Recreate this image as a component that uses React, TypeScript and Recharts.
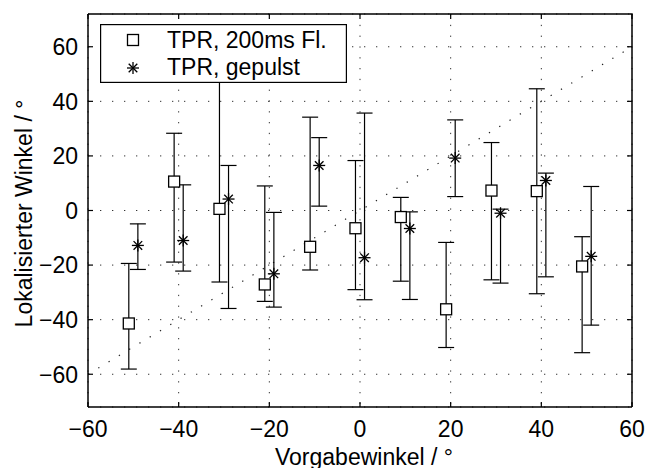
import {
  CartesianGrid,
  ErrorBar,
  Legend,
  ReferenceLine,
  Scatter,
  ScatterChart,
  XAxis,
  YAxis,
} from "recharts";

// MATLAB-style errorbar plot: boxed axes with inward ticks, dotted grid,
// dotted identity diagonal, open squares vs. asterisks.

const FONT = '"Liberation Sans", Arial, Helvetica, sans-serif';
const FS = 23;

const TICKS = [-60, -40, -20, 0, 20, 40, 60];
const X_DOMAIN: [number, number] = [-60, 60];
const Y_DOMAIN: [number, number] = [-72, 72];
const IDENTITY = [-60, 60];

// TPR, 200ms Fl. (squares)
const flashX = [-51, -41, -31, -21, -11, -1, 9, 19, 29, 39, 49];
const flashMean = [-41.4, 10.6, 0.6, -27.1, -13.3, -6.5, -2.4, -36.2, 7.3, 7.1, -20.5];
const flashHigh = [-19.4, 28.3, 60, 9.0, 34.2, 18.3, 4.8, -11.7, 24.9, 44.6, -9.6];
const flashLow = [-58.1, -18.9, -26.2, -33.3, -21.8, -29.0, -25.9, -50.2, -25.4, -30.5, -52.1];

// TPR, gepulst (asterisks)
const pulseX = [-49, -39, -29, -19, -9, 1, 11, 21, 31, 41, 51];
const pulseMean = [-12.8, -11.0, 4.2, -23.2, 16.5, -17.3, -6.6, 19.2, -1.0, 11.0, -16.8];
const pulseHigh = [-4.9, 9.4, 16.5, -0.7, 26.7, 35.7, -0.5, 33.2, 0.5, 13.7, 8.8];
const pulseLow = [-21.6, -22.2, -35.9, -35.4, 1.6, -32.7, -32.6, 5.1, -26.6, -24.3, -42.0];

function rows(xs: number[], mean: number[], low: number[], high: number[]) {
  return xs.map((x, i) => ({
    x,
    y: mean[i],
    err: [mean[i] - low[i], high[i] - mean[i]],
  }));
}

const flashData = rows(flashX, flashMean, flashLow, flashHigh);
const pulseData = rows(pulseX, pulseMean, pulseLow, pulseHigh);

// the box's top and right edges, plus tick anchors along them
const boxEdge = [
  { x: X_DOMAIN[0], y: Y_DOMAIN[1] },
  { x: X_DOMAIN[1], y: Y_DOMAIN[1] },
  { x: X_DOMAIN[1], y: Y_DOMAIN[0] },
];
const topTicks = TICKS.map((t) => ({ x: t, y: Y_DOMAIN[1] }));
const rightTicks = TICKS.map((t) => ({ x: X_DOMAIN[1], y: t }));

const AXIS_LINE = { stroke: "#000", strokeWidth: 1.5 } as const;
const TICK_LEN = 5;

const fmt = (v: number) => (v < 0 ? `\u2212${-v}` : `${v}`);

// inward tick marks drawn together with the labels
function BottomTick({ x, y, payload }: any) {
  const axisY = y - 14;
  return (
    <g>
      <line x1={x} y1={axisY} x2={x} y2={axisY - TICK_LEN} stroke="#000" strokeWidth={1.2} />
      <text x={x} y={y} dy="0.71em" textAnchor="middle" fontSize={FS} fontFamily={FONT} fill="#000">
        {fmt(payload.value)}
      </text>
    </g>
  );
}

function LeftTick({ x, y, payload }: any) {
  const axisX = x + 10;
  return (
    <g>
      <line x1={axisX} y1={y} x2={axisX + TICK_LEN} y2={y} stroke="#000" strokeWidth={1.2} />
      <text x={x} y={y} dy="0.36em" textAnchor="end" fontSize={FS} fontFamily={FONT} fill="#000">
        {fmt(payload.value)}
      </text>
    </g>
  );
}

function SquareMark({ cx, cy }: { cx: number; cy: number }) {
  return (
    <rect
      x={cx - 5.5}
      y={cy - 5.5}
      width={11}
      height={11}
      fill="#fff"
      stroke="#000"
      strokeWidth={1.3}
    />
  );
}

function StarMark({ cx, cy }: { cx: number; cy: number }) {
  const r = 6;
  const d = 4.3;
  return (
    <g stroke="#000" strokeWidth={1.3}>
      <line x1={cx - r} y1={cy} x2={cx + r} y2={cy} />
      <line x1={cx} y1={cy - r} x2={cx} y2={cy + r} />
      <line x1={cx - d} y1={cy - d} x2={cx + d} y2={cy + d} />
      <line x1={cx - d} y1={cy + d} x2={cx + d} y2={cy - d} />
    </g>
  );
}

function LegendBox() {
  const text = { fontSize: FS, fontFamily: FONT, fill: "#000" };
  return (
    <svg width={247} height={59} style={{ display: "block" }}>
      <rect x={0.6} y={0.6} width={245.8} height={57.8} fill="#fff" stroke="#000" strokeWidth={1.2} />
      <SquareMark cx={33} cy={16} />
      <text x={67} y={23.5} {...text}>TPR, 200ms Fl.</text>
      <StarMark cx={33} cy={44} />
      <text x={67} y={51} {...text}>TPR, gepulst</text>
    </svg>
  );
}

function YTitle({ viewBox }: any) {
  const x = (viewBox?.x ?? 0) + 32;
  const y = (viewBox?.y ?? 0) + (viewBox?.height ?? 0) / 2 + 3;
  return (
    <text
      x={x}
      y={y}
      transform={`rotate(-90 ${x} ${y})`}
      textAnchor="middle"
      fontSize={FS}
      fontFamily={FONT}
      fill="#000"
    >
      Lokalisierter Winkel / °
    </text>
  );
}

function XTitle({ viewBox }: any) {
  const x = (viewBox?.x ?? 0) + (viewBox?.width ?? 0) / 2 + 4;
  return (
    <text x={x} y={465} textAnchor="middle" fontSize={FS} fontFamily={FONT} fill="#000">
      Vorgabewinkel / °
    </text>
  );
}

export default function App() {
  return (
    <div style={{ position: "absolute", left: 0, top: 0, width: 647, height: 468, background: "#fff" }}>
      <ScatterChart
        width={647}
        height={468}
        margin={{ top: 14, right: 15, bottom: 0, left: 0 }}
      >
        <CartesianGrid vertical={false} stroke="#333" strokeDasharray="1.3 10.7" />
        <CartesianGrid horizontal={false} stroke="#333" strokeDasharray="1.3 9.5" />
        <XAxis
          type="number"
          dataKey="x"
          domain={X_DOMAIN}
          ticks={TICKS}
          height={61}
          axisLine={AXIS_LINE}
          tickLine={false}
          tickSize={0}
          tickMargin={14}
          tick={<BottomTick />}
          label={<XTitle />}
        />
        <YAxis
          type="number"
          dataKey="y"
          domain={Y_DOMAIN}
          ticks={TICKS}
          width={88}
          axisLine={AXIS_LINE}
          tickLine={false}
          tickSize={0}
          tickMargin={10}
          tick={<LeftTick />}
          label={<YTitle />}
        />
        <ReferenceLine
          segment={[
            { x: IDENTITY[0], y: IDENTITY[0] },
            { x: IDENTITY[1], y: IDENTITY[1] },
          ]}
          stroke="#222"
          strokeWidth={1.2}
          strokeDasharray="1.3 10.7"
        />
        {/* top / right box edges with inward ticks */}
        <Scatter
          data={boxEdge}
          isAnimationActive={false}
          line={{ stroke: "#000", strokeWidth: 1.5 }}
          lineType="joint"
          shape={() => <g />}
          legendType="none"
        />
        <Scatter
          data={topTicks}
          isAnimationActive={false}
          legendType="none"
          shape={(p: any) => (
            <line x1={p.cx} y1={p.cy} x2={p.cx} y2={p.cy + TICK_LEN} stroke="#000" strokeWidth={1.2} />
          )}
        />
        <Scatter
          data={rightTicks}
          isAnimationActive={false}
          legendType="none"
          shape={(p: any) => (
            <line x1={p.cx} y1={p.cy} x2={p.cx - TICK_LEN} y2={p.cy} stroke="#000" strokeWidth={1.2} />
          )}
        />
        <Scatter
          name="TPR, 200ms Fl."
          data={flashData}
          isAnimationActive={false}
          shape={(p: any) => <SquareMark cx={p.cx} cy={p.cy} />}
        >
          <ErrorBar dataKey="err" direction="y" width={8} stroke="#000" strokeWidth={1.2} />
        </Scatter>
        <Scatter
          name="TPR, gepulst"
          data={pulseData}
          isAnimationActive={false}
          shape={(p: any) => <StarMark cx={p.cx} cy={p.cy} />}
        >
          <ErrorBar dataKey="err" direction="y" width={8} stroke="#000" strokeWidth={1.2} />
        </Scatter>
        <Legend
          layout="horizontal"
          verticalAlign="middle"
          align="center"
          content={() => <LegendBox />}
          wrapperStyle={{ left: 100, top: 24, width: 247, height: 59 }}
        />
      </ScatterChart>
    </div>
  );
}
